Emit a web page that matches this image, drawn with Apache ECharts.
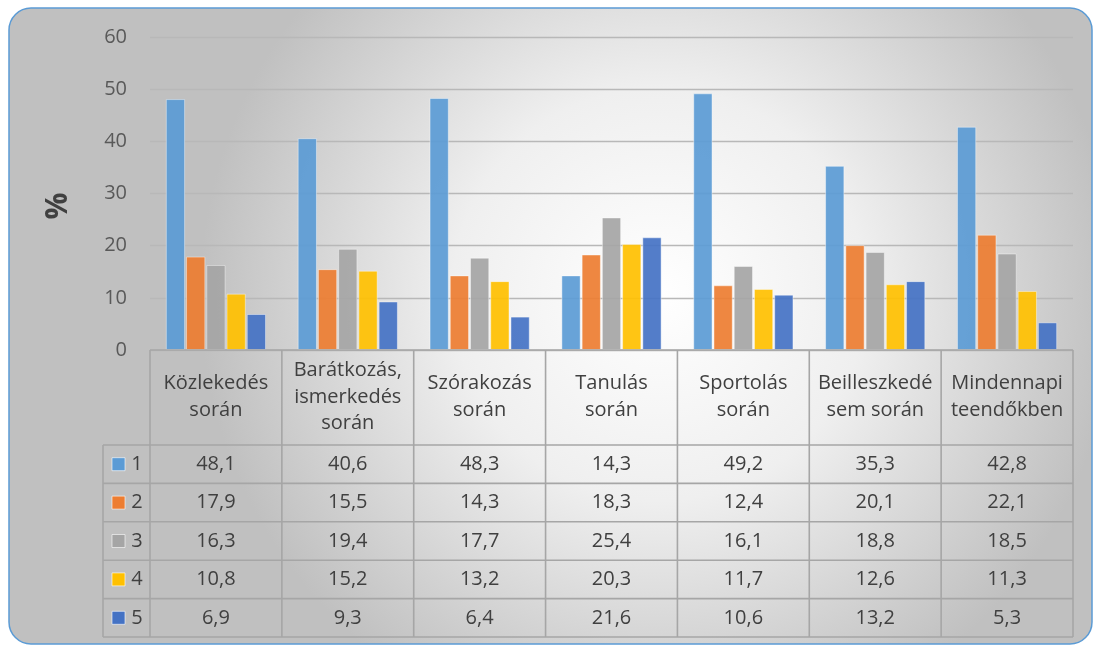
<!DOCTYPE html>
<html>
<head>
<meta charset="utf-8">
<script src="https://cdn.jsdelivr.net/npm/echarts@6/dist/echarts.min.js"></script>
<style>
  html, body { margin: 0; padding: 0; background: #fff; }
  #chart { width: 1095px; height: 646px; }
</style>
</head>
<body>
<div id="chart"></div>
<script>
// categories (header row of the data table)
const categories = [
  "Közlekedés\nsorán",
  "Barátkozás,\nismerkedés\nsorán",
  "Szórakozás\nsorán",
  "Tanulás\nsorán",
  "Sportolás\nsorán",
  "Beilleszkedé\nsem során",
  "Mindennapi\nteendőkben",
];

const seriesNames = ["1", "2", "3", "4", "5"];
const s1 = [48.1, 40.6, 48.3, 14.3, 49.2, 35.3, 42.8];
const s2 = [17.9, 15.5, 14.3, 18.3, 12.4, 20.1, 22.1];
const s3 = [16.3, 19.4, 17.7, 25.4, 16.1, 18.8, 18.5];
const s4 = [10.8, 15.2, 13.2, 20.3, 11.7, 12.6, 11.3];
const s5 = [6.9, 9.3, 6.4, 21.6, 10.6, 13.2, 5.3];
const seriesValues = [s1, s2, s3, s4, s5];
const colors = ["#5b9bd5", "#ed7d31", "#a5a5a5", "#ffc000", "#4472c4"];

const FONT = "'Open Sans', 'Noto Sans', sans-serif";
const TEXT = "#404040";
const LINE = "#a6a6a6";

const chartDom = document.getElementById("chart");
const myChart = echarts.init(chartDom);

const grid = { left: 150, right: 22, top: 37, bottom: 296 };
const rowTop = 445;
const rowH = 38.4;

const option = {
  animation: false,
  backgroundColor: "#ffffff",
  grid: grid,
  xAxis: {
    type: "category",
    data: categories,
    axisLine: { show: false },
    axisTick: { show: false },
    axisLabel: {
      interval: 0,
      margin: 47,
      verticalAlign: "middle",
      lineHeight: 26.5,
      fontSize: 20,
      fontFamily: FONT,
      color: TEXT,
    },
  },
  yAxis: {
    type: "value",
    min: 0,
    max: 60,
    interval: 10,
    axisLine: { show: false },
    axisTick: { show: false },
    axisLabel: { margin: 23, fontSize: 20, fontFamily: FONT, color: "#595959" },
    splitLine: { lineStyle: { color: "#b8b8b8", width: 1.3 } },
  },
  series: seriesValues.map((vals, i) => ({
    name: seriesNames[i],
    type: "bar",
    data: vals,
    barGap: "5%",
    barCategoryGap: "24%",
    itemStyle: {
      color: colors[i],
      opacity: 0.92,
      borderColor: "rgba(255,255,255,0.45)",
      borderWidth: 1,
    },
  })),
};

myChart.setOption(option);

// background panel + data table
const buildGraphics = () => {
  const els = [];
  els.push({
    type: "rect",
    z: -10,
    silent: true,
    shape: { x: 9, y: 8, width: 1083, height: 636, r: 22 },
    style: {
      fill: new echarts.graphic.RadialGradient(0.6, 0.45, 0.72, [
        { offset: 0, color: "#ffffff" },
        { offset: 0.45, color: "#efefef" },
        { offset: 1, color: "#c0c0c0" },
      ]),
      stroke: "#5b9bd5",
      lineWidth: 1.5,
    },
  });

  // y axis title
  els.push({
    type: "text",
    silent: true,
    x: 58,
    y: 206,
    rotation: Math.PI / 2,
    style: {
      text: "%", font: "bold 30px " + FONT, fill: TEXT,
      textAlign: "center", textVerticalAlign: "middle",
    },
  });

  const x0 = grid.left;
  const x1 = 1095 - grid.right;
  const yTop = 646 - grid.bottom;
  const colW = (x1 - x0) / categories.length;
  const legendLeft = 103;
  const yBottom = rowTop + rowH * seriesNames.length;
  const line = (ax, ay, bx, by) => ({
    type: "line",
    silent: true,
    z: 5,
    shape: { x1: ax, y1: ay, x2: bx, y2: by },
    style: { stroke: LINE, lineWidth: 1.6 },
  });

  // header top line
  els.push(line(x0, yTop, x1, yTop));
  // row lines
  for (let r = 0; r <= seriesNames.length; r++) {
    const y = rowTop + r * rowH;
    els.push(line(legendLeft, y, x1, y));
  }
  // vertical lines
  els.push(line(legendLeft, rowTop, legendLeft, yBottom));
  for (let c = 0; c <= categories.length; c++) {
    const x = x0 + c * colW;
    els.push(line(x, yTop, x, yBottom));
  }

  seriesValues.forEach((vals, r) => {
    const yc = rowTop + r * rowH + rowH / 2;
    els.push({
      type: "rect",
      silent: true,
      z: 6,
      shape: { x: 112, y: yc - 6.5, width: 13, height: 13 },
      style: { fill: colors[r], stroke: "rgba(255,255,255,0.6)", lineWidth: 1 },
    });
    els.push({
      type: "text",
      silent: true,
      z: 6,
      style: {
        x: 137, y: yc, text: seriesNames[r],
        font: "20px " + FONT, fill: TEXT,
        textAlign: "center", textVerticalAlign: "middle",
      },
    });
    vals.forEach((v, c) => {
      const xc = myChart.convertToPixel({ xAxisIndex: 0 }, c);
      els.push({
        type: "text",
        silent: true,
        z: 6,
        style: {
          x: xc, y: yc, text: v.toFixed(1).replace(".", ","),
          font: "20px " + FONT, fill: TEXT,
          textAlign: "center", textVerticalAlign: "middle",
        },
      });
    });
  });
  return els;
};

myChart.setOption({ graphic: { elements: buildGraphics() } });
</script>
</body>
</html>
